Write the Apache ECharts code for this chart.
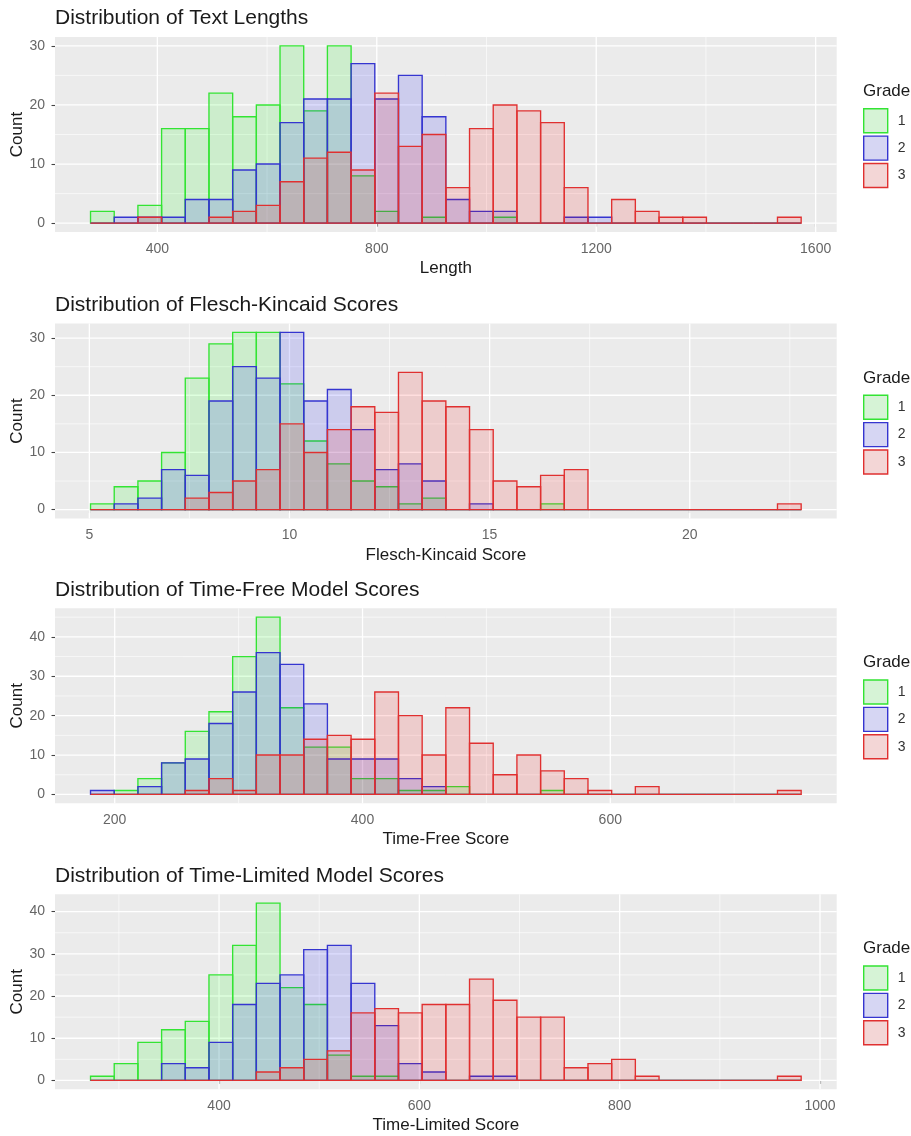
<!DOCTYPE html>
<html><head><meta charset="utf-8">
<script src="https://cdn.jsdelivr.net/npm/echarts@6/dist/echarts.min.js"></script>
<style>html,body{margin:0;padding:0;background:#fff}#c{width:911px;height:1136px}</style>
</head><body><div id="c"></div>
<script>
// ---------- data ----------
const grades = ['1', '2', '3'];
const panelTitles = ['Distribution of Text Lengths', 'Distribution of Flesch-Kincaid Scores',
  'Distribution of Time-Free Model Scores', 'Distribution of Time-Limited Model Scores'];
const xTitles = ['Length', 'Flesch-Kincaid Score', 'Time-Free Score', 'Time-Limited Score'];
// histogram bins: left edge of first bin and bin width (30 bins per panel)
const binStart = [278.2, 5.03, 180.47, 271.7];
const binWidth = [43.18, 0.5918, 19.12, 23.65];

// Text length counts per grade
const lengthG1 = [2,0,3,16,16,22,18,20,30,19,30,8,2,0,1,0,0,1,0,0,0,0,0,0,0,0,0,0,0,0];
const lengthG2 = [0,1,1,1,4,4,9,10,17,21,21,27,21,25,18,4,2,2,0,0,1,1,0,0,0,0,0,0,0,0];
const lengthG3 = [0,0,1,0,0,1,2,3,7,11,12,9,22,13,15,6,16,20,19,17,6,0,4,2,1,1,0,0,0,1];
// Flesch-Kincaid counts
const fkG1 = [1,4,5,10,23,29,31,31,22,12,8,5,4,1,2,0,0,0,0,1,0,0,0,0,0,0,0,0,0,0];
const fkG2 = [0,1,2,7,6,19,25,23,31,19,21,14,7,8,5,0,1,0,0,0,0,0,0,0,0,0,0,0,0,0];
const fkG3 = [0,0,0,0,2,3,5,7,15,10,14,18,17,24,19,18,14,5,4,6,7,0,0,0,0,0,0,0,0,1];
// Time-Free counts
const tfG1 = [0,1,4,8,16,21,35,45,22,12,12,4,4,1,1,2,0,0,0,1,0,0,0,0,0,0,0,0,0,0];
const tfG2 = [1,0,2,8,9,18,26,36,33,23,9,9,9,4,2,0,0,0,0,0,0,0,0,0,0,0,0,0,0,0];
const tfG3 = [0,0,0,0,1,4,1,10,10,14,15,14,26,20,10,22,13,5,10,6,4,1,0,2,0,0,0,0,0,1];
// Time-Limited counts
const tlG1 = [1,4,9,12,14,25,32,42,22,18,6,1,1,0,0,0,0,0,0,0,0,0,0,0,0,0,0,0,0,0];
const tlG2 = [0,0,0,4,3,9,18,23,25,31,32,23,13,4,2,0,1,1,0,0,0,0,0,0,0,0,0,0,0,0];
const tlG3 = [0,0,0,0,0,0,0,2,3,5,7,16,17,16,18,18,24,19,15,15,3,4,5,1,0,0,0,0,0,1];

const counts = [[lengthG1, lengthG2, lengthG3], [fkG1, fkG2, fkG3], [tfG1, tfG2, tfG3], [tlG1, tlG2, tlG3]];

const xMajor = [[400,800,1200,1600],[5,10,15,20],[200,400,600],[400,600,800,1000]];
const xMinor = [[600,1000,1400],[7.5,12.5,17.5,22.5],[300,500,700],[300,500,700,900]];
const yMajor = [[0,10,20,30],[0,10,20,30],[0,10,20,30,40],[0,10,20,30,40]];
const yMinor = [[5,15,25],[5,15,25],[5,15,25,35,45],[5,15,25,35]];

// ---------- style ----------
const FONT = 'Liberation Sans, Arial, sans-serif';
const lineColors = ['#33e433', '#3535d0', '#e03030'];
const fillColors = ['rgba(0,255,0,0.13)', 'rgba(0,0,255,0.13)', 'rgba(255,0,0,0.13)'];
const keyColors = ['#d6f3d6', '#d6d6f3', '#f3d6d6'];
const tops = [37, 323.5, 608.3, 894.3];
const plotLeft = 55, plotWidth = 781.7, plotHeight = 195;

const option = {
  animation: false,
  backgroundColor: '#ffffff',
  textStyle: { fontFamily: FONT },
  title: [], legend: [], grid: [], xAxis: [], yAxis: [], series: []
};

for (let i = 0; i < 4; i++) {
  const w = binWidth[i], s0 = binStart[i];
  const xMin = s0 - 1.5 * w, xMax = s0 + 31.5 * w;
  const maxCount = Math.max(...counts[i].flat());
  const yMin = -0.05 * maxCount, yMax = 1.05 * maxCount;

  option.title.push({
    text: panelTitles[i], left: plotLeft, top: tops[i] - 29, padding: 0,
    textStyle: { fontSize: 21, fontWeight: 'normal', color: '#1a1a1a', fontFamily: FONT }
  });
  option.title.push({
    text: 'Grade', left: 863, top: tops[i] + 46, padding: 0,
    textStyle: { fontSize: 17, fontWeight: 'normal', color: '#1a1a1a', fontFamily: FONT }
  });
  option.legend.push({
    left: 863, top: tops[i] + 71, orient: 'vertical', padding: 0,
    itemWidth: 24, itemHeight: 24, itemGap: 2, selectedMode: false,
    textStyle: { fontSize: 14, color: '#333', fontFamily: FONT, padding: [0, 0, 0, 5] },
    data: grades.map((g, k) => ({
      name: g, icon: 'rect',
      itemStyle: { color: keyColors[k], borderColor: lineColors[k], borderWidth: 1.4 }
    }))
  });
  option.grid.push({
    left: plotLeft, top: tops[i], width: plotWidth, height: plotHeight,
    show: true, backgroundColor: '#EBEBEB', borderWidth: 0, outerBoundsMode: 'none'
  });
  option.xAxis.push({
    type: 'value', gridIndex: i, min: xMin, max: xMax,
    axisLine: { show: false },
    axisTick: { show: true, length: 3.5, lineStyle: { color: '#444', width: 1.1 }, customValues: xMajor[i] },
    axisLabel: { customValues: xMajor[i], color: '#666', fontSize: 14, margin: 10, formatter: v => String(v) },
    splitLine: { show: false },
    name: xTitles[i], nameLocation: 'middle', nameGap: 28, nameMoveOverlap: false,
    nameTextStyle: { fontSize: 17, color: '#1a1a1a', fontFamily: FONT }
  });
  option.yAxis.push({
    type: 'value', gridIndex: i, min: yMin, max: yMax,
    axisLine: { show: false },
    axisTick: { show: true, length: 3.5, lineStyle: { color: '#444', width: 1.1 }, customValues: yMajor[i] },
    axisLabel: { customValues: yMajor[i], color: '#666', fontSize: 14, margin: 10, formatter: v => String(v) },
    splitLine: { show: false },
    name: 'Count', nameLocation: 'middle', nameGap: 29, nameMoveOverlap: false,
    nameTextStyle: { fontSize: 17, color: '#1a1a1a', fontFamily: FONT }
  });

  // grid lines (white major / thin minor) from tick arrays
  const gl = [];
  xMajor[i].forEach(v => gl.push([0, v, 0]));
  xMinor[i].forEach(v => { if (v > xMin && v < xMax) gl.push([0, v, 1]); });
  yMajor[i].forEach(v => gl.push([1, v, 0]));
  yMinor[i].forEach(v => { if (v > yMin && v < yMax) gl.push([1, v, 1]); });
  option.series.push({
    type: 'custom', name: 'grid' + i, xAxisIndex: i, yAxisIndex: i, silent: true,
    data: gl, encode: { x: 1, y: 1 },
    renderItem: (params, api) => {
      const cs = params.coordSys;
      const dir = api.value(0), v = api.value(1), minor = api.value(2);
      let shape;
      if (dir === 0) {
        const x = api.coord([v, 0])[0];
        shape = { x1: x, y1: cs.y, x2: x, y2: cs.y + cs.height };
      } else {
        const y = api.coord([xMin, v])[1];
        shape = { x1: cs.x, y1: y, x2: cs.x + cs.width, y2: y };
      }
      return { type: 'line', shape, style: { stroke: '#ffffff', lineWidth: minor ? 0.6 : 1.3 } };
    }
  });

  // histogram bars per grade
  for (let k = 0; k < 3; k++) {
    const data = counts[i][k].map((c, j) => [s0 + j * w, s0 + (j + 1) * w, c]);
    option.series.push({
      type: 'custom', name: grades[k], xAxisIndex: i, yAxisIndex: i, silent: true,
      data, encode: { x: [0, 1], y: 2 },
      itemStyle: { color: keyColors[k] },
      renderItem: (params, api) => {
        const p0 = api.coord([api.value(0), api.value(2)]);
        const p1 = api.coord([api.value(1), 0]);
        return {
          type: 'rect',
          shape: { x: p0[0], y: p0[1], width: p1[0] - p0[0], height: p1[1] - p0[1] },
          style: { fill: fillColors[k], stroke: lineColors[k], lineWidth: 1.35 }
        };
      }
    });
  }
}

const chart = echarts.init(document.getElementById('c'), null, { renderer: 'canvas' });
chart.setOption(option);
</script>
</body></html>
